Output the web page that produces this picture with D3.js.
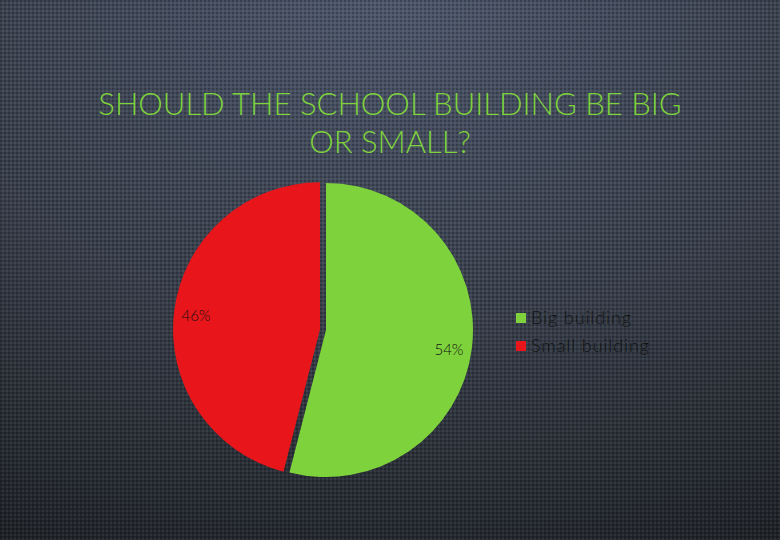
<!DOCTYPE html>
<html><head><meta charset="utf-8">
<script src="https://cdn.jsdelivr.net/npm/d3@7"></script>
<style>html,body{margin:0;padding:0;background:#2c323b;}svg{display:block;}</style>
</head><body>
<svg id="chart" width="780" height="540"></svg>
<script>
const categories = ["Big building", "Small building"];
const values = [54, 46];
const labels = ["54%", "46%"];
const colors = ["#7ed23c", "#e8161a"];
const titleLines = ["SHOULD THE SCHOOL BUILDING BE BIG", "OR SMALL?"];

const svg = d3.select("#chart");
const defs = svg.append("defs");
const grad = defs.append("radialGradient").attr("id","bg").attr("cx","50%").attr("cy","0%").attr("r","110%");
grad.append("stop").attr("offset","0%").attr("stop-color","#4e586c");
grad.append("stop").attr("offset","55%").attr("stop-color","#383f4b");
grad.append("stop").attr("offset","100%").attr("stop-color","#1f2227");
const pat = defs.append("pattern").attr("id","tex").attr("width",4).attr("height",4).attr("patternUnits","userSpaceOnUse");
pat.append("rect").attr("x",0).attr("y",0).attr("width",2).attr("height",2).attr("fill","rgba(0,0,0,0.22)");
pat.append("rect").attr("x",2).attr("y",2).attr("width",2).attr("height",2).attr("fill","rgba(255,255,255,0.06)");

svg.append("rect").attr("width",780).attr("height",540).attr("fill","url(#bg)");
svg.append("rect").attr("width",780).attr("height",540).attr("fill","url(#tex)");

svg.append("g").selectAll("text").data(titleLines).join("text")
  .attr("x",390).attr("y",(d,i)=>115+i*38)
  .attr("text-anchor","middle")
  .attr("font-family","Lato, 'Open Sans', sans-serif").attr("font-weight",300)
  .attr("font-size",31).attr("fill","#7ed23c")
  .text(d=>d);

const cx = 326, cy = 330, r = 147;
const pie = d3.pie().sort(null).value(d=>d)(values);
const arc = d3.arc().innerRadius(0).outerRadius(r);
const explode = [0, 6];
const g = svg.append("g").attr("transform",`translate(${cx},${cy})`);
g.selectAll("path").data(pie).join("path")
  .attr("d",arc)
  .attr("fill",(d,i)=>colors[i])
  .attr("transform",(d,i)=>{
    const a=(d.startAngle+d.endAngle)/2;
    return `translate(${Math.sin(a)*explode[i]},${-Math.cos(a)*explode[i]})`;
  });

const labelPos = [[123,25],[-130,-9]];
g.selectAll("text.lbl").data(pie).join("text").attr("class","lbl")
  .attr("x",(d,i)=>labelPos[i][0]).attr("y",(d,i)=>labelPos[i][1])
  .attr("font-family","Lato, sans-serif").attr("font-weight",300).attr("font-size",15).attr("fill","#111")
  .attr("text-anchor","middle")
  .text((d,i)=>labels[i]);

const leg = svg.append("g").attr("transform","translate(516,318)");
const items = leg.selectAll("g").data(categories).join("g").attr("transform",(d,i)=>`translate(0,${i*28})`);
items.append("rect").attr("x",0).attr("y",-5).attr("width",10).attr("height",10).attr("fill",(d,i)=>colors[i]);
items.append("text").attr("x",15).attr("y",6).attr("font-family","Lato, sans-serif").attr("font-weight",300)
  .attr("font-size",18).attr("letter-spacing",0.9).attr("fill","#111").text(d=>d);
</script>
</body></html>
